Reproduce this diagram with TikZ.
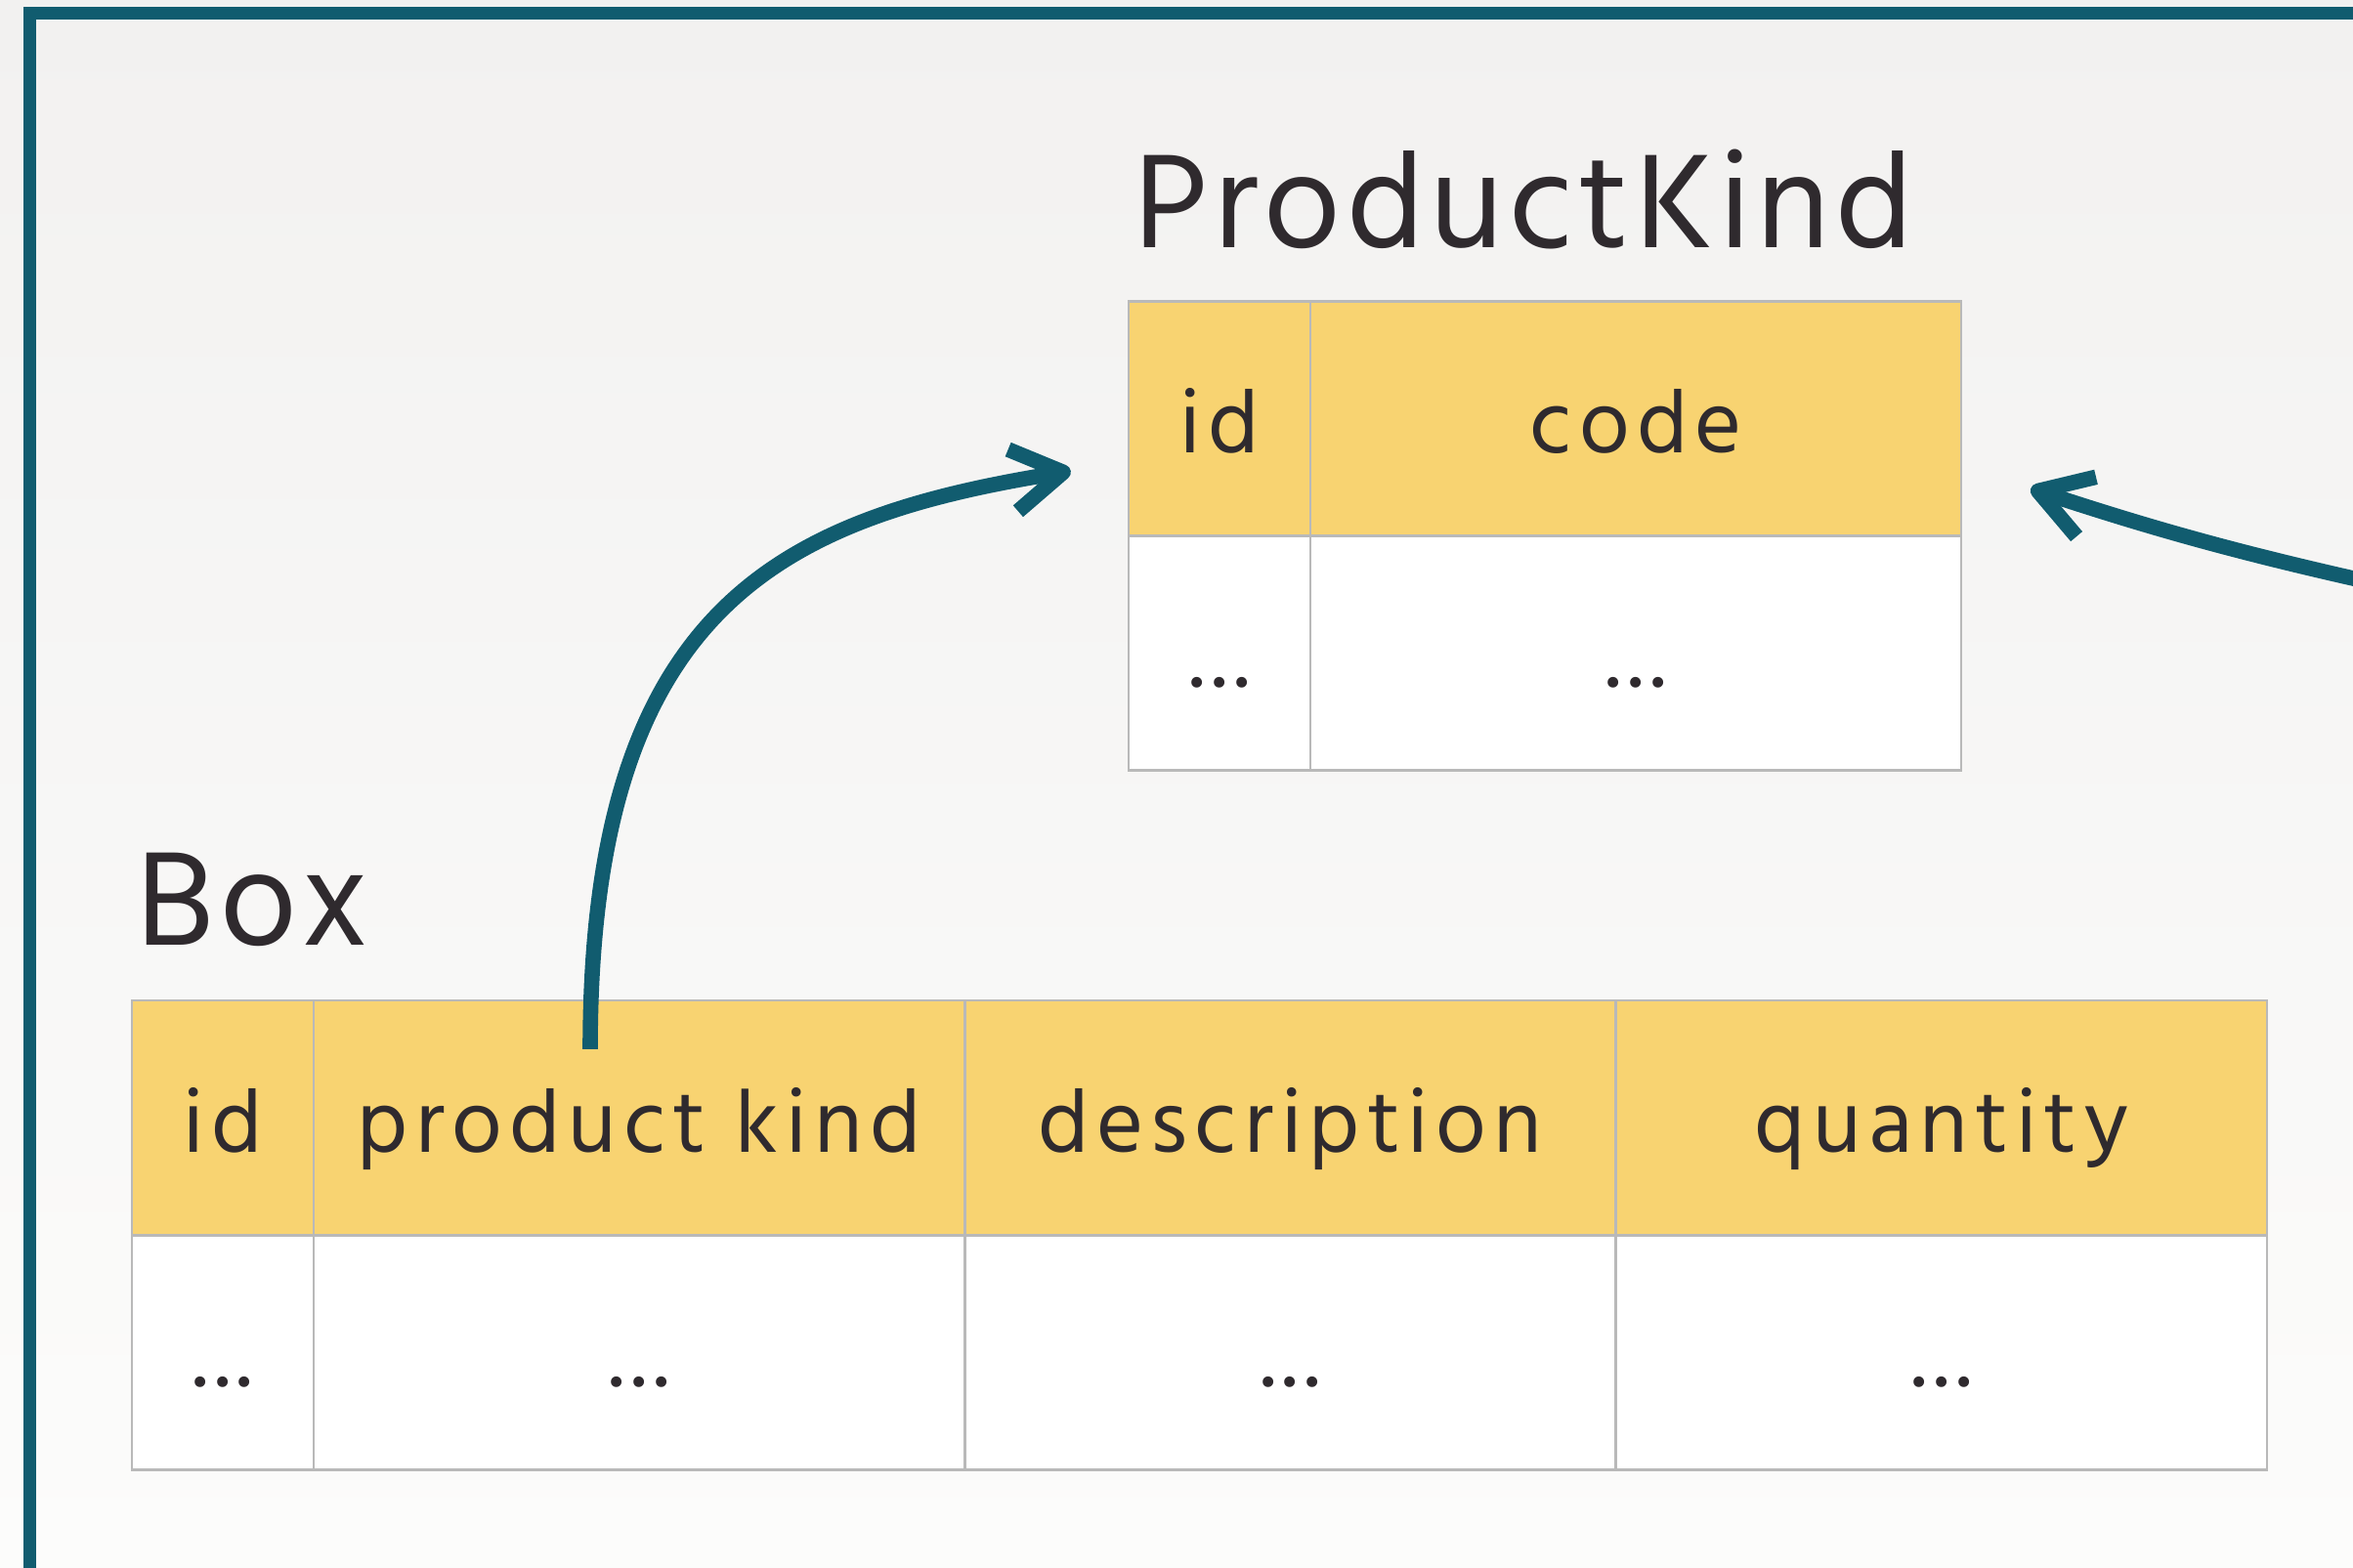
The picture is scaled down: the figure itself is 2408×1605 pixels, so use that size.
\documentclass[tikz,border=0pt]{standalone}
\usepackage{fontspec}
\setmainfont{Hind Madurai}
\newfontfamily\cellfont[LetterSpace=8]{Hind Madurai}
\newfontfamily\titlefont[LetterSpace=4]{Hind Madurai}
\usetikzlibrary{arrows.meta}
\definecolor{frameteal}{HTML}{115C6F}
\definecolor{headyellow}{HTML}{F8D371}
\definecolor{gridgrey}{HTML}{B9B9B9}
\definecolor{inkdark}{HTML}{2F2A2E}
\definecolor{paperTop}{HTML}{F2F1F0}
\definecolor{paperBot}{HTML}{FCFCFB}
\tikzset{cell/.style={draw=gridgrey, line width=0.6pt, inner sep=0pt,
                      minimum height=60pt, text height=17.5pt, text depth=0pt,
                      text=inkdark, font=\cellfont\fontsize{23}{28}\selectfont},
         headcell/.style={cell, fill=headyellow},
         bodycell/.style={cell, fill=white},
         narrowcol/.style={minimum width=46.5pt},
         widecol/.style={minimum width=166.5pt},
         tabletitle/.style={inner sep=0pt, text=inkdark, font=\titlefont\fontsize{35}{42}\selectfont},
         fklink/.style={draw=frameteal, line width=3.9pt,
                        -{Straight Barb[length=13pt,width=16pt,line join=round]}}}

\begin{document}
\begin{tikzpicture}[x=0.25pt, y=-0.25pt]
            \useasboundingbox (0,0) rectangle (2408,1605);
            \clip (0,0) rectangle (2408,1605);
            \fill[top color=paperTop, bottom color=paperBot] (0,0) rectangle (2408,1605);
            \draw[frameteal, line width=3.25pt] (30,14) rectangle (2460,1611);

            % ProductKind table
            \node[tabletitle, anchor=base west] (kindTitle) at (1160, 253) {ProductKind};

            \node[headcell, narrowcol] (kindId) at (1248, 428.5) {id};
            \node[headcell, widecol] (kindCode) at (1674, 428.5) {code};
            \node[bodycell, narrowcol] (kindIdVal) at (1248, 668.5) {...};
            \node[bodycell, widecol] (kindCodeVal) at (1674, 668.5) {...};

            % Box table
            \node[tabletitle, anchor=base west] (boxTitle) at (139, 967) {Box};

            \node[headcell, narrowcol] (boxId) at (228, 1144) {id};
            \node[headcell, widecol] (boxKind) at (654, 1144) {product kind};
            \node[headcell, widecol] (boxDesc) at (1320.5, 1144) {description};
            \node[headcell, widecol] (boxQty) at (1987, 1144) {quantity};

            \node[bodycell, narrowcol] (boxIdVal) at (228, 1384.5) {...};
            \node[bodycell, widecol] (boxKindVal) at (654, 1384.5) {...};
            \node[bodycell, widecol] (boxDescVal) at (1320.5, 1384.5) {...};
            \node[bodycell, widecol] (boxQtyVal) at (1987, 1384.5) {...};

            % references
            \draw[fklink] ([xshift=-12.5pt, yshift=-12.75pt]boxKind.north)
                .. controls (604, 620) and (800, 530) .. ([xshift=-14.5pt, yshift=-13.4pt]kindId.west);

            \coordinate (offRight) at (2500, 612);
            \draw[fklink] (offRight)
                .. controls (2300, 570) and (2200, 540) .. ([xshift=17.5pt, yshift=-17.9pt]kindCode.east);
\end{tikzpicture}
\end{document}
